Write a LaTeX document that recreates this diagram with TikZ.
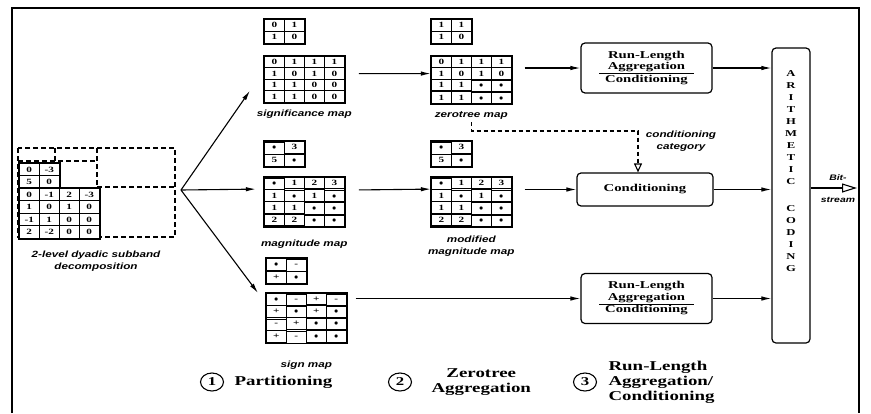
\documentclass[tikz,border=0pt]{standalone}
\usepackage{fontspec}
\usetikzlibrary{matrix,arrows.meta,shapes.geometric,positioning,calc}

\newfontfamily\capfont{Liberation Sans}[FakeStretch=1.3]
\newfontfamily\boxfont{Liberation Serif}[FakeStretch=1.4]
\setlength{\arrayrulewidth}{1pt}
\renewcommand{\arraystretch}{0.95}

\tikzset{
  coefgrid/.style={matrix of nodes, draw, line width=1.6pt, fill=white, inner sep=0pt,
    column sep=-1pt, row sep=-1pt,
    nodes={draw, line width=1pt, minimum width=20pt, minimum height=12pt,
      inner sep=0pt, font=\boxfont\bfseries\fontsize{8}{8}\selectfont}},
  mapcap/.style={font=\capfont\bfseries\itshape\fontsize{9}{11.5}\selectfont, align=center},
  codebox/.style={draw, line width=1.2pt, rounded corners=4pt, align=center,
    font=\boxfont\bfseries\fontsize{10.5}{12}\selectfont},
  flow/.style={line width=1.1pt, -{Latex[length=10pt,width=4.5pt]}},
  cut/.style={line width=1.2pt, dash pattern=on 5pt off 3pt},
  legnum/.style={ellipse, draw, line width=1.1pt, minimum width=23pt, minimum height=18pt,
    inner sep=0pt, font=\boxfont\bfseries\fontsize{12}{12}\selectfont},
  legtext/.style={font=\boxfont\bfseries\fontsize{13.5}{15}\selectfont, align=center},
}

\begin{document}
\begin{tikzpicture}[x=1pt,y=-1pt]
  % Definitions:
  \useasboundingbox (0,0) rectangle (871,413);
  \coordinate (fan) at (181,190); % Where the three maps split off.
  \coordinate (cat) at (638,131);
  \coordinate (bits) at (857,188);
  % Drawing:
  \draw[line width=1.3pt] (12,413) |- (859,8) -- (859,413);
  \draw[cut] (18,148) rectangle (175,237);
  \draw[cut] (97,148) -- (97,237) (97,187) -- (175,187)
    (55,148) -- (55,161) (18,161) -- (97,161);
  \matrix (decS) [coefgrid, anchor=north west, nodes={minimum height=12.5pt}] at (18,162)
    {0 & -3\\ 5 & 0\\};
  \matrix (dec) [coefgrid, anchor=north west, nodes={minimum height=12.5pt}] at (18,187)
    {0 & -1 & 2 & -3\\ 1 & 0 & 1 & 0\\ -1 & 1 & 0 & 0\\ 2 & -2 & 0 & 0\\};

  \matrix (sigS) [coefgrid, anchor=north west] at (263,18) {0 & 1\\ 1 & 0\\};
  \matrix (sig) [coefgrid, anchor=north west, nodes={minimum height=11.5pt}] at (263,55)
    {0 & 1 & 1 & 1\\ 1 & 0 & 1 & 0\\ 1 & 1 & 0 & 0\\ 1 & 1 & 0 & 0\\};
  \matrix (ztS) [coefgrid, anchor=north west] at (430,18) {1 & 1\\ 1 & 0\\};
  \matrix (zt) [coefgrid, anchor=north west, nodes={minimum height=11.5pt}] at (430,55)
    {0 & 1 & 1 & 1\\ 1 & 0 & 1 & 0\\ 1 & 1 & $\bullet$ & $\bullet$\\ 1 & 1 & $\bullet$ & $\bullet$\\};

  \matrix (magS) [coefgrid, anchor=north west] at (263,140) {$\bullet$ & 3\\ 5 & $\bullet$\\};
  \matrix (mag) [coefgrid, anchor=north west, nodes={minimum height=11.5pt}] at (263,176)
    {$\bullet$ & 1 & 2 & 3\\ 1 & $\bullet$ & 1 & $\bullet$\\ 1 & 1 & $\bullet$ & $\bullet$\\ 2 & 2 & $\bullet$ & $\bullet$\\};
  \matrix (modS) [coefgrid, anchor=north west] at (430,140) {$\bullet$ & 3\\ 5 & $\bullet$\\};
  \matrix (mod) [coefgrid, anchor=north west, nodes={minimum height=11.5pt}] at (430,176)
    {$\bullet$ & 1 & 2 & 3\\ 1 & $\bullet$ & 1 & $\bullet$\\ 1 & 1 & $\bullet$ & $\bullet$\\ 2 & 2 & $\bullet$ & $\bullet$\\};

  \matrix (sgnS) [coefgrid, anchor=north west] at (265,257) {$\bullet$ & -\\ + & $\bullet$\\};
  \matrix (sgn) [coefgrid, anchor=north west, nodes={minimum height=11.5pt}] at (265,292)
    {$\bullet$ & - & + & -\\ + & $\bullet$ & + & $\bullet$\\ - & + & $\bullet$ & $\bullet$\\ + & - & $\bullet$ & $\bullet$\\};

  \node[codebox, minimum width=131pt, minimum height=50pt] (rl1) at (646.5,68)
    {\begin{tabular}{c}Run-Length\\Aggregation\\\hline Conditioning\end{tabular}};
  \node[codebox, minimum width=136pt, minimum height=33pt] (cond) at (645,189.5) {Conditioning};
  \node[codebox, minimum width=131pt, minimum height=50pt] (rl2) at (646.5,298.5)
    {\begin{tabular}{c}Run-Length\\Aggregation\\\hline Conditioning\end{tabular}};
  \node[codebox, minimum width=38pt, minimum height=295pt] (arith) at (791,195.5) {};
  \node[inner sep=0pt, anchor=north, align=center, font=\boxfont\bfseries\fontsize{9}{12}\selectfont]
    (arithtxt) at (791,70) {A\\R\\I\\T\\H\\M\\E\\T\\I\\C\\[15pt]C\\O\\D\\I\\N\\G};

  \draw[flow] (fan) -- ($(sig.south west)+(-13,-13)$);
  \draw[flow] (fan) -- ($(mag-2-1.north west)+(-8,0)$);
  \draw[flow] (fan) -- ($(sgn.north west)+(-7,1)$);
  \draw[flow] ($(sig-2-4.east)+(14,0)$) -- (zt-2-1.west);
  \draw[flow] ($(mag-2-4.north east)+(14,0)$) -- (mod-2-1.north west);
  \draw[flow] ($(zt.east |- rl1.west)+(12,0)$) -- (rl1.west);
  \draw[flow] ($(mod.east |- cond.west)+(12,0)$) -- (cond.west);
  \draw[flow] ($(sgn.east |- rl2.west)+(8,0)$) -- (rl2.west);
  \draw[flow] (rl1.east) -- (arith.west |- rl1.east);
  \draw[flow] (cond.east) -- (arith.west |- cond.east);
  \draw[flow] (rl2.east) -- (arith.west |- rl2.east);
  \draw[line width=1.1pt, dash pattern=on 4pt off 3pt, -{Triangle[open, length=9pt, width=8pt]}]
    ($(zt.south)+(0,17)$) |- (cat) -- (cat |- cond.north);
  \draw[line width=1.1pt, -{Triangle[open, length=15pt, width=9pt]}] (arith.east |- bits) -- (bits);
  % Labels:
  \node[mapcap] (declbl) at (96,261) {2-level dyadic subband\\decomposition};
  \node[mapcap, below=3pt of sig] (siglbl) {significance map};
  \node[mapcap, below=3pt of zt] (ztlbl) {zerotree map};
  \node[mapcap, below=9pt of mag] (maglbl) {magnitude map};
  \node[mapcap, below=5pt of mod] (modlbl) {modified\\magnitude map};
  \node[mapcap, below=13pt of sgn] (sgnlbl) {sign map};
  \node[mapcap] (catlbl) at ($(cat)+(43,10)$) {conditioning\\category};
  \node[mapcap, font=\capfont\bfseries\itshape\fontsize{8}{9}\selectfont] (bitlbl) at (838,178) {Bit-};
  \node[mapcap, font=\capfont\bfseries\itshape\fontsize{8}{9}\selectfont] (streamlbl) at (838,200) {stream};

  \node[legnum] (num1) at (212,382) {1};
  \node[legtext, right=7pt of num1] (leg1) {Partitioning};
  \node[legnum] (num2) at (400,382) {2};
  \node[legtext, right=16pt of num2] (leg2) {Zerotree\\Aggregation};
  \node[legnum] (num3) at (585,382) {3};
  \node[legtext, right=8pt of num3, align=left] (leg3) {Run-Length\\Aggregation/\\Conditioning};
\end{tikzpicture}
\end{document}
